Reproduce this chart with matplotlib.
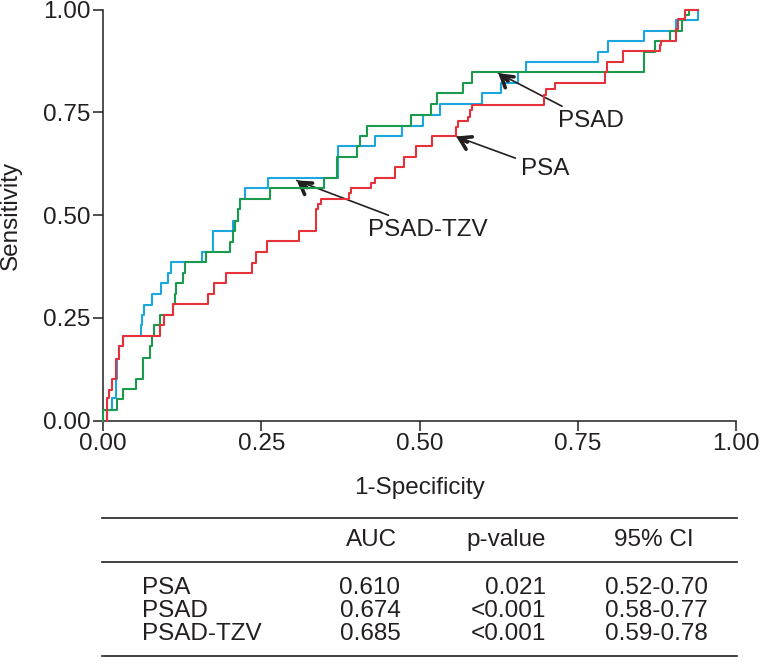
import numpy as np
import matplotlib
matplotlib.use("Agg")
import matplotlib.pyplot as plt

# ROC-кривые (1-специфичность, чувствительность), точки ступенек
psa_fpr = [0.006, 0.006, 0.010, 0.014, 0.021, 0.025, 0.032, 0.090, 0.097, 0.110,
           0.166, 0.176, 0.194, 0.236, 0.242, 0.259, 0.309, 0.336, 0.340, 0.344,
           0.389, 0.391, 0.424, 0.430, 0.461, 0.476, 0.494, 0.520, 0.558, 0.561,
           0.577, 0.580, 0.583, 0.696, 0.700, 0.714, 0.793, 0.796, 0.822, 0.880,
           0.882, 0.906, 0.909, 0.919, 0.940]
psa_tpr = [0.000, 0.054, 0.074, 0.101, 0.150, 0.181, 0.206, 0.232, 0.257, 0.283,
           0.307, 0.334, 0.358, 0.382, 0.409, 0.437, 0.462, 0.514, 0.527, 0.539,
           0.553, 0.565, 0.577, 0.591, 0.617, 0.641, 0.667, 0.692, 0.715, 0.729,
           0.739, 0.755, 0.768, 0.793, 0.807, 0.820, 0.848, 0.873, 0.898, 0.914,
           0.924, 0.952, 0.976, 1.000, 1.000]

psad_fpr = [0.007, 0.007, 0.014, 0.021, 0.022, 0.025, 0.032, 0.060, 0.062, 0.065,
            0.077, 0.092, 0.102, 0.107, 0.156, 0.173, 0.206, 0.213, 0.216, 0.225,
            0.261, 0.372, 0.430, 0.472, 0.506, 0.532, 0.599, 0.629, 0.656, 0.668,
            0.782, 0.798, 0.855, 0.906, 0.940]
psad_tpr = [0.000, 0.026, 0.054, 0.101, 0.150, 0.181, 0.206, 0.232, 0.257, 0.281,
            0.307, 0.334, 0.360, 0.385, 0.409, 0.461, 0.486, 0.514, 0.539, 0.565,
            0.591, 0.668, 0.692, 0.717, 0.743, 0.769, 0.796, 0.820, 0.847, 0.873,
            0.897, 0.924, 0.948, 0.974, 1.000]

tzv_fpr = [0.000, 0.000, 0.022, 0.031, 0.052, 0.063, 0.074, 0.078, 0.081, 0.090,
           0.111, 0.113, 0.115, 0.126, 0.130, 0.163, 0.201, 0.205, 0.209, 0.213,
           0.216, 0.264, 0.349, 0.370, 0.402, 0.406, 0.417, 0.487, 0.518, 0.527,
           0.569, 0.583, 0.854, 0.872, 0.896, 0.914, 0.919, 0.925, 0.940]
tzv_tpr = [0.000, 0.026, 0.052, 0.076, 0.100, 0.151, 0.181, 0.206, 0.232, 0.257,
           0.283, 0.307, 0.334, 0.360, 0.385, 0.409, 0.435, 0.461, 0.486, 0.514,
           0.539, 0.565, 0.591, 0.642, 0.668, 0.692, 0.717, 0.743, 0.769, 0.796,
           0.820, 0.847, 0.897, 0.924, 0.948, 0.974, 0.987, 1.000, 1.000]

# подписи со стрелками: (текст, кончик стрелки, позиция текста)
labels = ["PSAD", "PSA", "PSAD-TZV"]
arrow_tips = [(0.6245, 0.845), (0.558, 0.691), (0.306, 0.584)]
text_pos = [(0.719, 0.728), (0.660, 0.612), (0.418, 0.4635)]

# таблица
row_names = ["PSA", "PSAD", "PSAD-TZV"]
auc = ["0.610", "0.674", "0.685"]
p_values = ["0.021", "<0.001", "<0.001"]
ci = ["0.52-0.70", "0.58-0.77", "0.59-0.78"]

ticks = [0.00, 0.25, 0.50, 0.75, 1.00]

plt.rcParams['font.family'] = ['Liberation Sans', 'DejaVu Sans']
FS = 17.5
TXT = '#231f20'

W, H = 761, 666
fig = plt.figure(figsize=(W / 100, H / 100), dpi=100)
ax = fig.add_axes([103 / W, 1 - 420.5 / H, 633 / W, 411 / H])

ax.step(psad_fpr, psad_tpr, where='post', color='#1aa7e0', lw=1.5, clip_on=False, zorder=3)
ax.step(tzv_fpr, tzv_tpr, where='post', color='#1a9a4c', lw=1.5, clip_on=False, zorder=4)
ax.step(psa_fpr, psa_tpr, where='post', color='#e6303a', lw=1.5, clip_on=False, zorder=5)

ax.set_xlim(0, 1)
ax.set_ylim(0, 1)
ax.set_xticks(ticks)
ax.set_yticks(ticks)
ax.set_xticklabels([f"{t:.2f}" for t in ticks])
ax.set_yticklabels([f"{t:.2f}" for t in ticks])
ax.tick_params(length=7, width=1.1, pad=2, labelsize=FS, colors=TXT)
for side in ['top', 'right']:
    ax.spines[side].set_visible(False)
for side in ['left', 'bottom']:
    ax.spines[side].set_linewidth(1.1)
    ax.spines[side].set_color(TXT)

ax.set_xlabel("1-Specificity", fontsize=FS, color=TXT)
ax.set_ylabel("Sensitivity", fontsize=FS, color=TXT)
ax.xaxis.set_label_coords(0.5, -0.138)
ax.yaxis.set_label_coords(-0.128, 0.5)

# стрелки: тонкая линия и отдельный жирный наконечник
for lab, tip, pos in zip(labels, arrow_tips, text_pos):
    ax.annotate(lab, xy=tip, xytext=pos, ha='left', va='center', fontsize=FS, color=TXT,
                arrowprops=dict(arrowstyle='-', lw=1.2, color=TXT, shrinkA=2, shrinkB=0))
    p_tip = ax.transData.transform(tip)
    p_pos = ax.transData.transform(pos)
    d = (p_pos - p_tip) / np.hypot(*(p_pos - p_tip))
    ax.annotate('', xy=tip, xytext=(d[0] * 9, d[1] * 9), textcoords='offset points',
                arrowprops=dict(arrowstyle='->, head_length=0.8, head_width=0.5',
                                lw=2.6, color=TXT, shrinkA=0, shrinkB=0,
                                mutation_scale=10))

# таблица под графиком (пиксельные координаты)
tab = fig.add_axes([0, 0, 1, 1], zorder=-1)
tab.set_xlim(0, W)
tab.set_ylim(H, 0)
tab.axis('off')

for y in [518, 561.5, 656]:
    tab.plot([102, 737], [y, y], color=TXT, lw=1.2)

tab.text(371.5, 540, "AUC", ha='center', va='center', fontsize=FS, color=TXT)
tab.text(506.5, 540, "p-value", ha='center', va='center', fontsize=FS, color=TXT)
tab.text(654, 540, "95% CI", ha='center', va='center', fontsize=FS, color=TXT)

row_y = [588, 611, 634]
for y, name, a, p, c in zip(row_y, row_names, auc, p_values, ci):
    tab.text(141.5, y, name, ha='left', va='center', fontsize=FS, color=TXT)
    tab.text(370, y, a, ha='center', va='center', fontsize=FS, color=TXT)
    tab.text(546.5, y, p, ha='right', va='center', fontsize=FS, color=TXT)
    tab.text(605, y, c, ha='left', va='center', fontsize=FS, color=TXT)

fig.savefig("out.png", dpi=100)
